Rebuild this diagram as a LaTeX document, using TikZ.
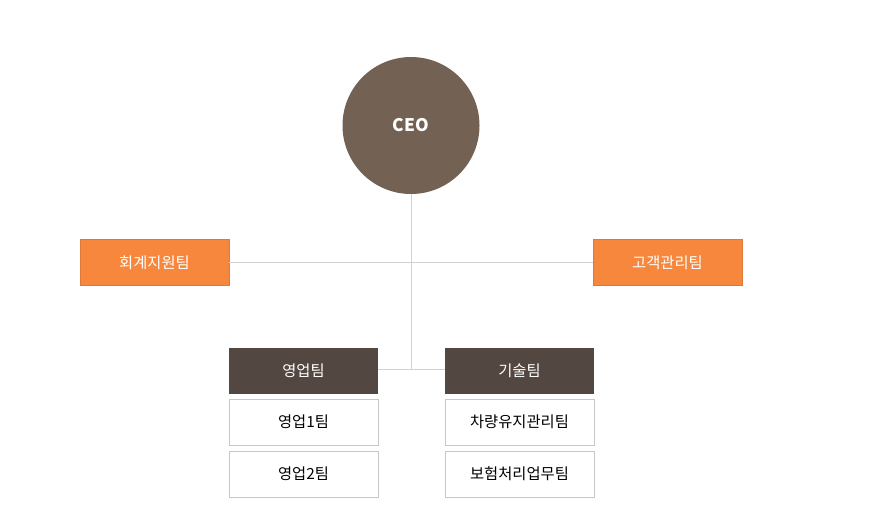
\documentclass[tikz,border=0pt]{standalone}
\usepackage{fontspec}
\newfontfamily\kr{Noto Sans CJK KR}
\usepackage{tikz}
\definecolor{ceobrown}{HTML}{736253}
\definecolor{teamorange}{HTML}{F7873C}
\definecolor{deptbrown}{HTML}{534741}
\definecolor{linegray}{HTML}{D2D2D2}
\definecolor{boxgray}{HTML}{C8C8C8}
\tikzstyle{box}=[minimum width=111.75pt, minimum height=34.5pt, inner sep=0pt, font={\kr\fontsize{11.5}{13}\selectfont}]
\tikzstyle{staffbox}=[box, fill=teamorange, draw=teamorange!90!black, line width=0.4pt, text=white]
\tikzstyle{deptbox}=[box, fill=deptbrown, text=white]
\tikzstyle{teambox}=[box, fill=white, draw=boxgray, line width=0.75pt, text=black]
\tikzstyle{link}=[linegray, line width=0.75pt]

\begin{document}
\begin{tikzpicture}[x=0.75pt, y=-0.75pt]

    \useasboundingbox (0, 0) rectangle (884, 514);

    \node[circle, fill=ceobrown, minimum size=102.75pt, inner sep=0pt, text=white, font={\kr\bfseries\fontsize{13}{15}\selectfont}] (ceo) at (411, 125.5) {CEO};

    \node[staffbox] (accounting) at (154.5, 262.5) {회계지원팀};
    \node[staffbox] (customer) at (667.5, 262.5) {고객관리팀};

    \node[deptbox] (sales) at (303.5, 371) {영업팀};
    \node[deptbox] (tech) at (519.5, 371) {기술팀};

    \node[teambox] (sales1) at (303.5, 422) {영업1팀};
    \node[teambox] (sales2) at (303.5, 474) {영업2팀};
    \node[teambox] (vehicle) at (519.5, 422) {차량유지관리팀};
    \node[teambox] (insurance) at (519.5, 474) {보험처리업무팀};

    \coordinate (split) at (411, 369.5);

    \draw[link] (ceo.south) -- (split);
    \draw[link] (accounting.east) -- (customer.west);
    \draw[link] (sales.east |- split) -- (tech.west |- split);

\end{tikzpicture}
\end{document}
